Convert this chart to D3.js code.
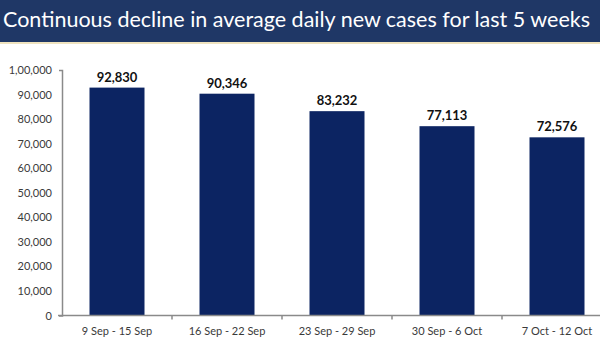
<!DOCTYPE html>
<html>
<head>
<meta charset="utf-8">
<script src="https://cdn.jsdelivr.net/npm/d3@7"></script>
<style>
  body { margin: 0; background: #fff; }
  svg { display: block; }
</style>
</head>
<body>
<div id="chart"></div>
<script>
const weeks = ["9 Sep - 15 Sep", "16 Sep - 22 Sep", "23 Sep - 29 Sep", "30 Sep - 6 Oct", "7 Oct - 12 Oct"];
const avgCases = [92830, 90346, 83232, 77113, 72576];
const yTicks = [0, 10000, 20000, 30000, 40000, 50000, 60000, 70000, 80000, 90000, 100000];
const yTickLabels = ["0", "10,000", "20,000", "30,000", "40,000", "50,000", "60,000", "70,000", "80,000", "90,000", "1,00,000"];
const valueLabels = ["92,830", "90,346", "83,232", "77,113", "72,576"];
const title = "Continuous decline in average daily new cases for last 5 weeks";

const W = 600, H = 350;
const svg = d3.select("#chart").append("svg")
  .attr("width", W).attr("height", H);

// title banner
svg.append("rect").attr("x", 0).attr("y", 0).attr("width", W).attr("height", 42).attr("fill", "#1f3766");
svg.append("rect").attr("x", 0).attr("y", 42).attr("width", W).attr("height", 2).attr("fill", "#efe3bf");
svg.append("text")
  .attr("x", 3).attr("y", 27)
  .attr("fill", "#fff")
  .style("font-family", "Lato, 'Open Sans', sans-serif")
  .style("font-size", "21.5px")
  .text(title);

const x = d3.scaleBand().domain(weeks).range([62, 612]).paddingInner(0.5).paddingOuter(0.25);
const y = d3.scaleLinear().domain([0, 100000]).range([315.5, 70]);

const font = "Lato, 'Open Sans', sans-serif";

// y axis
const yAxis = svg.append("g")
  .attr("transform", "translate(62,0)")
  .call(d3.axisLeft(y).tickValues(yTicks).tickFormat((d, i) => yTickLabels[i]).tickSizeInner(0).tickSizeOuter(3).tickPadding(10));
yAxis.select(".domain").attr("stroke", "#8a8a8a").attr("stroke-width", 1.5);
yAxis.selectAll("text").attr("fill", "#3a3a3a").style("font-family", font).style("font-size", "11px");

// bars
svg.selectAll(".bar").data(weeks).join("rect")
  .attr("class", "bar")
  .attr("x", d => x(d))
  .attr("width", x.bandwidth())
  .attr("y", (d, i) => y(avgCases[i]))
  .attr("height", (d, i) => y(0) - y(avgCases[i]))
  .attr("fill", "#0c2462");

// value labels
svg.selectAll(".val").data(weeks).join("text")
  .attr("class", "val")
  .attr("x", d => x(d) + x.bandwidth() / 2)
  .attr("y", (d, i) => y(avgCases[i]) - 6)
  .attr("text-anchor", "middle")
  .attr("fill", "#111")
  .style("font-family", font)
  .style("font-weight", "bold")
  .style("font-size", "13px")
  .text((d, i) => valueLabels[i]);

// x axis with ticks at band edges
const xAxis = svg.append("g").attr("transform", `translate(0,${y(0)})`);
xAxis.append("line")
  .attr("x1", 58).attr("x2", 612)
  .attr("stroke", "#8a8a8a").attr("stroke-width", 1.5);
xAxis.selectAll(".tk").data(weeks.slice(1)).join("line")
  .attr("class", "tk")
  .attr("x1", d => x(d) - x.step() * x.paddingOuter())
  .attr("x2", d => x(d) - x.step() * x.paddingOuter())
  .attr("y1", 0).attr("y2", 4)
  .attr("stroke", "#8a8a8a").attr("stroke-width", 1.5);
xAxis.selectAll(".lbl").data(weeks).join("text")
  .attr("class", "lbl")
  .attr("x", d => x(d) + x.bandwidth() / 2)
  .attr("y", 19)
  .attr("text-anchor", "middle")
  .attr("fill", "#3a3a3a")
  .style("font-family", font)
  .style("font-size", "11px")
  .text(d => d);
</script>
</body>
</html>
